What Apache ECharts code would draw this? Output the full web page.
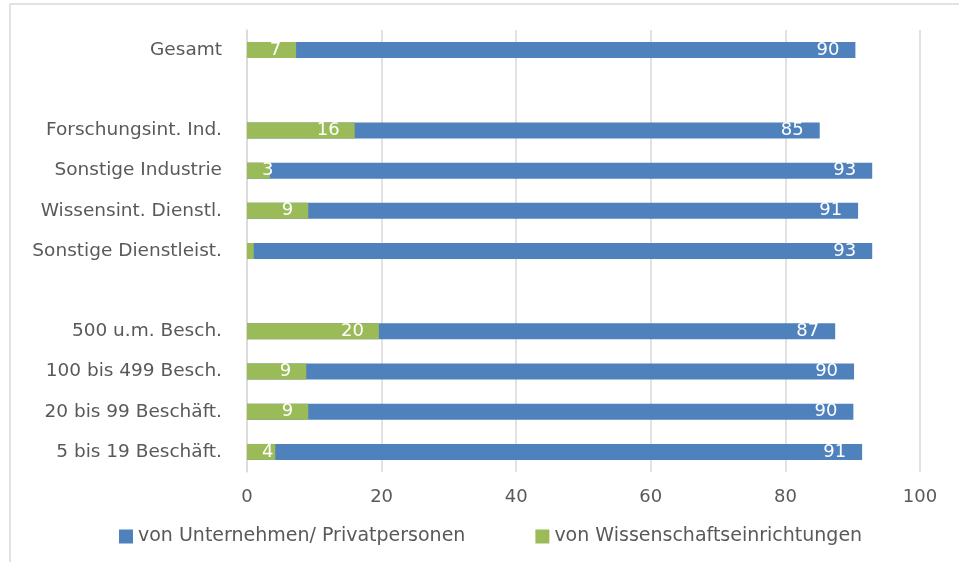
<!DOCTYPE html>
<html>
<head>
<meta charset="utf-8">
<script src="https://cdn.jsdelivr.net/npm/echarts@6/dist/echarts.min.js"></script>
<style>
    html, body { margin: 0; padding: 0; background: #fff; }
    #chart { width: 959px; height: 562px; }
</style>
</head>
<body>
<div id="chart"></div>
<script>
// Kategorien von oben nach unten, leere Einträge = Abstand
const categories = ['Gesamt', '', 'Forschungsint. Ind.', 'Sonstige Industrie', 'Wissensint. Dienstl.',
    'Sonstige Dienstleist.', '', '500 u.m. Besch.', '100 bis 499 Besch.', '20 bis 99 Beschäft.', '5 bis 19 Beschäft.'];
const unternehmen = [90.4, null, 85.1, 92.9, 90.8, 92.9, null, 87.4, 90.2, 90.1, 91.4];
const wissenschaft = [7.3, null, 16.0, 3.4, 9.1, 1.0, null, 19.6, 8.8, 9.1, 4.2];
const xTicks = [0, 20, 40, 60, 80, 100];
const seriesNames = ['von Unternehmen/ Privatpersonen', 'von Wissenschaftseinrichtungen'];

const font = 'DejaVu Sans';
const textColor = '#595959';
const gridColor = '#d9d9d9';

const chart = echarts.init(document.getElementById('chart'), null, {renderer: 'canvas'});

// Kleine Balken: Beschriftung links, Wert 1 ohne Beschriftung (wie im Original)
const greenData = wissenschaft.map(function (v) {
    if (v == null) return null;
    if (v < 2) return {value: v, label: {show: false}};
    if (v < 6) return {value: v, label: {position: 'insideLeft', distance: 15}};
    return v;
});

const option = {
    animation: false,
    textStyle: {fontFamily: font},
    graphic: [{
        type: 'rect',
        shape: {x: 10, y: 4, width: 970, height: 600},
        style: {fill: null, stroke: gridColor, lineWidth: 1.5},
        silent: true
    }],
    grid: {left: 247, right: 39, top: 30, bottom: 90, containLabel: false},
    legend: {
        left: 114,
        top: 522,
        itemWidth: 14,
        itemHeight: 14,
        itemGap: 70,
        icon: 'rect',
        textStyle: {color: textColor, fontSize: 19, fontFamily: font},
        data: seriesNames
    },
    xAxis: {
        type: 'value',
        min: 0,
        max: 100,
        interval: 20,
        axisLine: {show: false},
        axisTick: {show: false},
        splitLine: {lineStyle: {color: gridColor, width: 1.5}},
        axisLabel: {
            color: textColor, fontSize: 18, fontFamily: font, margin: 16,
            formatter: function (v) { return xTicks.indexOf(v) >= 0 ? String(v) : ''; }
        }
    },
    yAxis: {
        type: 'category',
        inverse: true,
        data: categories,
        axisLine: {show: true, lineStyle: {color: gridColor, width: 1.5}},
        axisTick: {show: false},
        axisLabel: {color: textColor, fontSize: 18.5, fontFamily: font, margin: 25}
    },
    series: [
        {
            name: seriesNames[0],
            type: 'bar',
            data: unternehmen,
            barWidth: 16,
            barGap: '-100%',
            itemStyle: {color: '#4f81bd'},
            label: {
                show: true,
                position: 'insideRight',
                distance: 16,
                color: '#fff',
                fontSize: 18,
                fontFamily: font,
                formatter: function (p) { return Math.round(p.value); }
            }
        },
        {
            name: seriesNames[1],
            type: 'bar',
            data: greenData,
            barWidth: 16,
            barGap: '-100%',
            itemStyle: {color: '#9bbb59'},
            label: {
                show: true,
                position: 'insideRight',
                distance: 15,
                color: '#fff',
                fontSize: 18,
                fontFamily: font,
                formatter: function (p) { return Math.round(p.value); }
            }
        }
    ]
};

chart.setOption(option);
</script>
</body>
</html>
